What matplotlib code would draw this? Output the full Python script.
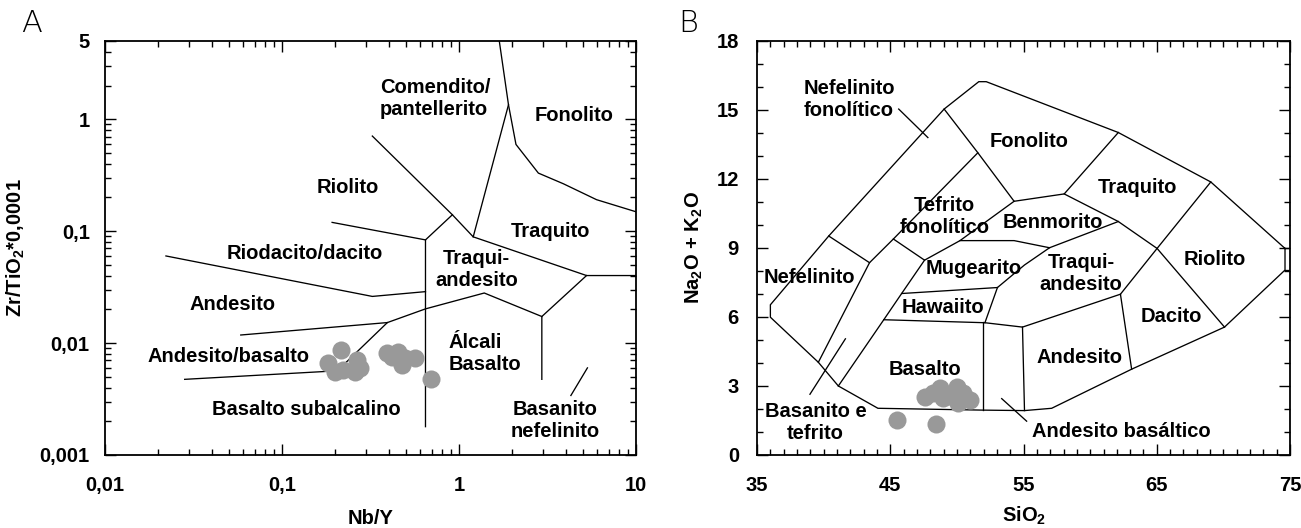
"""
Nb/Y vs Zr/TiO2 and TAS classification diagrams with sample points.
"""

import matplotlib
matplotlib.use('Agg')
import matplotlib.pyplot as plt
from matplotlib.ticker import FixedLocator, LogLocator, MultipleLocator, NullFormatter

plt.rcParams['font.family'] = ['Liberation Sans', 'DejaVu Sans']
plt.rcParams['font.weight'] = 'bold'
plt.rcParams['font.size'] = 14.5
plt.rcParams['mathtext.fontset'] = 'custom'
plt.rcParams['mathtext.bf'] = 'Liberation Sans:bold'
plt.rcParams['mathtext.rm'] = 'Liberation Sans:bold'
plt.rcParams['mathtext.default'] = 'bf'

FS = 14.5

# --- Panel A: Zr/TiO2 vs Nb/Y (log-log) ---
nby_samples = [0.215, 0.183, 0.222, 0.264, 0.258, 0.199, 0.276,
               0.394, 0.454, 0.496, 0.564, 0.474, 0.417, 0.692]
zrti_samples = [0.00867, 0.00659, 0.00574, 0.00705, 0.00554, 0.0055, 0.00594,
                0.00809, 0.00836, 0.00730, 0.00730, 0.00637, 0.00755, 0.00474]

wf_fonolito = [(1.69, 5), (1.905, 1.345), (2.10, 0.595), (2.81, 0.330),
               (3.89, 0.265), (5.99, 0.191), (10, 0.149)]
wf_comendito = [(1.905, 1.345), (1.204, 0.0889)]
wf_traquito = [(0.324, 0.707), (0.918, 0.140), (1.204, 0.0889),
               (5.26, 0.0401), (10, 0.0401)]
wf_vertical = [(0.918, 0.140), (0.647, 0.0835), (0.647, 0.00179)]
wf_riolito = [(0.192, 0.1197), (0.647, 0.0835)]
wf_riodacito = [(0.0221, 0.060), (0.324, 0.0261), (0.647, 0.0288)]
wf_basanito = [(5.26, 0.0401), (2.94, 0.01726), (2.94, 0.00474)]
wf_alcali = [(2.94, 0.01726), (1.39, 0.0280), (0.647, 0.0202),
             (0.394, 0.01524), (0.232, 0.0068), (0.205, 0.00565)]
wf_andesito = [(0.0585, 0.0118), (0.394, 0.01524)]
wf_andbas = [(0.0282, 0.00474), (0.164, 0.00554), (0.205, 0.00565)]
wf_leader = [(4.29, 0.0034), (5.32, 0.0060)]
wf_lines = [wf_fonolito, wf_comendito, wf_traquito, wf_vertical, wf_riolito,
            wf_riodacito, wf_basanito, wf_alcali, wf_andesito, wf_andbas,
            wf_leader]

# (text, x, y, horizontal alignment)
wf_labels = [
    ('Comendito/\npantellerito', 0.357, 1.545, 'left'),
    ('Fonolito', 4.47, 1.08, 'center'),
    ('Riolito', 0.235, 0.247, 'center'),
    ('Traquito', 3.27, 0.100, 'center'),
    ('Riodacito/dacito', 0.134, 0.0633, 'center'),
    ('Traqui-\nandesito', 1.257, 0.0455, 'center'),
    ('Andesito', 0.0525, 0.0223, 'center'),
    ('Álcali\nBasalto', 0.871, 0.00807, 'left'),
    ('Andesito/basalto', 0.0498, 0.00753, 'center'),
    ('Basalto subalcalino', 0.1375, 0.00253, 'center'),
    ('Basanito\nnefelinito', 3.51, 0.00203, 'center'),
]

# --- Panel B: TAS (Na2O + K2O vs SiO2) ---
sio2_samples = [45.53, 48.41, 47.61, 48.23, 48.73, 48.98, 49.99,
                50.48, 50.11, 50.99, 49.73]
alk_samples = [1.52, 1.33, 2.53, 2.68, 2.90, 2.47, 2.97,
               2.68, 2.25, 2.39, 2.53]

tas_outline = [(74.62, 8.98), (69.05, 11.87), (62.11, 14.02), (52.20, 16.23),
               (51.64, 16.23), (49.04, 15.04), (40.38, 9.52), (36.0, 6.53),
               (36.0, 5.99), (39.60, 4.03), (41.10, 3.00), (44.07, 2.03),
               (51.95, 1.95), (55.07, 1.93), (57.11, 2.03), (63.11, 3.73),
               (70.08, 5.56), (74.62, 8.04), (74.62, 8.98)]
tas_cap_top = [(74.62, 8.98), (75, 8.98)]
tas_cap_bottom = [(74.62, 8.04), (75, 8.04)]
tas_nef = [(40.38, 9.52), (43.44, 8.36)]
tas_l1 = [(39.60, 4.03), (43.44, 8.36), (45.23, 9.39), (51.57, 13.14),
          (49.04, 15.04)]
tas_fonolito = [(51.57, 13.14), (54.29, 11.03), (58.05, 11.35), (62.11, 14.02)]
tas_l2 = [(41.10, 3.00), (44.51, 5.88), (45.85, 7.02), (47.57, 8.47)]
tas_tefrito = [(45.23, 9.39), (47.57, 8.47), (50.23, 9.32), (54.29, 11.03)]
tas_benmorito = [(50.23, 9.32), (54.29, 9.32), (56.95, 9.01), (62.11, 10.15)]
tas_traquito = [(58.05, 11.35), (62.11, 10.15), (65.02, 8.98), (69.05, 11.87)]
tas_riolito = [(65.02, 8.98), (70.08, 5.56)]
tas_dacito = [(65.02, 8.98), (62.27, 6.99), (63.11, 3.73)]
tas_traqand = [(56.95, 9.01), (55.07, 8.26), (53.04, 7.28), (52.10, 5.75)]
tas_hawaiito = [(45.85, 7.02), (53.04, 7.28)]
tas_basalto = [(44.51, 5.88), (52.10, 5.75), (54.92, 5.56), (62.27, 6.99)]
tas_bas_and = [(51.95, 5.76), (51.95, 1.95)]
tas_and = [(54.92, 5.56), (55.07, 1.93)]
tas_leader_nef = [(45.63, 15.04), (47.82, 13.80)]
tas_leader_bas = [(41.63, 5.05), (38.97, 2.64)]
tas_leader_and = [(53.36, 2.45), (55.23, 1.47)]
tas_lines = [tas_outline, tas_cap_top, tas_cap_bottom, tas_nef, tas_l1,
             tas_fonolito, tas_l2, tas_tefrito, tas_benmorito, tas_traquito,
             tas_riolito, tas_dacito, tas_traqand, tas_hawaiito, tas_basalto,
             tas_bas_and, tas_and, tas_leader_nef, tas_leader_bas,
             tas_leader_and]

tas_labels = [
    ('Nefelinito\nfonolítico', 38.5, 15.47, 'left'),
    ('Fonolito', 55.45, 13.65, 'center'),
    ('Traquito', 63.58, 11.64, 'center'),
    ('Tefrito\nfonolítico', 49.07, 10.37, 'center'),
    ('Benmorito', 57.2, 10.12, 'center'),
    ('Mugearito', 51.26, 8.11, 'center'),
    ('Traqui-\nandesito', 59.3, 7.89, 'center'),
    ('Riolito', 69.37, 8.50, 'center'),
    ('Nefelinito', 38.91, 7.72, 'center'),
    ('Hawaiito', 48.98, 6.43, 'center'),
    ('Dacito', 66.08, 6.04, 'center'),
    ('Andesito', 59.2, 4.22, 'center'),
    ('Basalto', 47.63, 3.70, 'center'),
    ('Basanito e\ntefrito', 39.38, 1.40, 'center'),
    ('Andesito basáltico', 62.33, 1.04, 'center'),
]

point_color = '#999999'
line_kw = dict(color='black', lw=0.95, solid_joinstyle='miter', zorder=2)


def style_axes(ax, ypad):
    for side in ax.spines.values():
        side.set_linewidth(1.3)
    ax.tick_params(which='both', direction='in', top=True, right=True,
                   width=1.0)
    ax.tick_params(which='major', length=8, labelsize=FS)
    ax.tick_params(which='minor', length=4.5)
    ax.tick_params(axis='x', which='major', pad=15)
    ax.tick_params(axis='y', which='major', pad=ypad)


fig = plt.figure(figsize=(13.01, 5.28), dpi=100)

# Panel A
ax1 = fig.add_axes([0.0807, 0.1383, 0.4081, 0.7841])
ax1.set_xscale('log')
ax1.set_yscale('log')
ax1.set_xlim(0.01, 10)
ax1.set_ylim(0.001, 5)
for seg in wf_lines:
    xs, ys = zip(*seg)
    ax1.plot(xs, ys, **line_kw)
ax1.plot(nby_samples, zrti_samples, 'o', ms=13, color=point_color,
         mec='none', zorder=3)
for txt, x, y, ha in wf_labels:
    ax1.text(x, y, txt, ha=ha, va='center', fontsize=FS, fontweight='bold')

ax1.xaxis.set_major_locator(FixedLocator([0.01, 0.1, 1, 10]))
ax1.set_xticklabels(['0,01', '0,1', '1', '10'])
ax1.xaxis.set_minor_locator(LogLocator(base=10, subs=range(2, 10)))
ax1.xaxis.set_minor_formatter(NullFormatter())
ax1.yaxis.set_major_locator(FixedLocator([0.001, 0.01, 0.1, 1, 5]))
ax1.set_yticklabels(['0,001', '0,01', '0,1', '1', '5'])
ax1.yaxis.set_minor_locator(LogLocator(base=10, subs=range(2, 10)))
ax1.yaxis.set_minor_formatter(NullFormatter())
style_axes(ax1, 11)
ax1.set_xlabel('Nb/Y', fontsize=FS, fontweight='bold')
ax1.set_ylabel(r'Zr/TiO$_2$*0,0001', fontsize=FS, fontweight='bold')
ax1.xaxis.set_label_coords(0.5, -0.13)
ax1.yaxis.set_label_coords(-0.147, 0.5)

# Panel B
ax2 = fig.add_axes([0.5819, 0.1383, 0.4097, 0.7841])
ax2.set_xlim(35, 75)
ax2.set_ylim(0, 18)
for seg in tas_lines:
    xs, ys = zip(*seg)
    ax2.plot(xs, ys, **line_kw)
ax2.plot(sio2_samples, alk_samples, 'o', ms=13, color=point_color,
         mec='none', zorder=3)
for txt, x, y, ha in tas_labels:
    ax2.text(x, y, txt, ha=ha, va='center', fontsize=FS, fontweight='bold')

ax2.xaxis.set_major_locator(FixedLocator([35, 45, 55, 65, 75]))
ax2.xaxis.set_minor_locator(MultipleLocator(1))
ax2.yaxis.set_major_locator(FixedLocator([0, 3, 6, 9, 12, 15, 18]))
ax2.yaxis.set_minor_locator(MultipleLocator(1))
style_axes(ax2, 13)
ax2.set_xlabel(r'SiO$_2$', fontsize=FS, fontweight='bold')
ax2.set_ylabel(r'Na$_2$O + K$_2$O', fontsize=FS, fontweight='bold')
ax2.xaxis.set_label_coords(0.5, -0.12)
ax2.yaxis.set_label_coords(-0.098, 0.5)

fig.text(32 / 1301, 1 - 24 / 528, 'A', ha='center', va='center',
         fontsize=22, fontweight='light', family='DejaVu Sans')
fig.text(688 / 1301, 1 - 24 / 528, 'B', ha='center', va='center',
         fontsize=22, fontweight='light', family='DejaVu Sans')

fig.savefig('out.png', dpi=100)
plt.close(fig)
